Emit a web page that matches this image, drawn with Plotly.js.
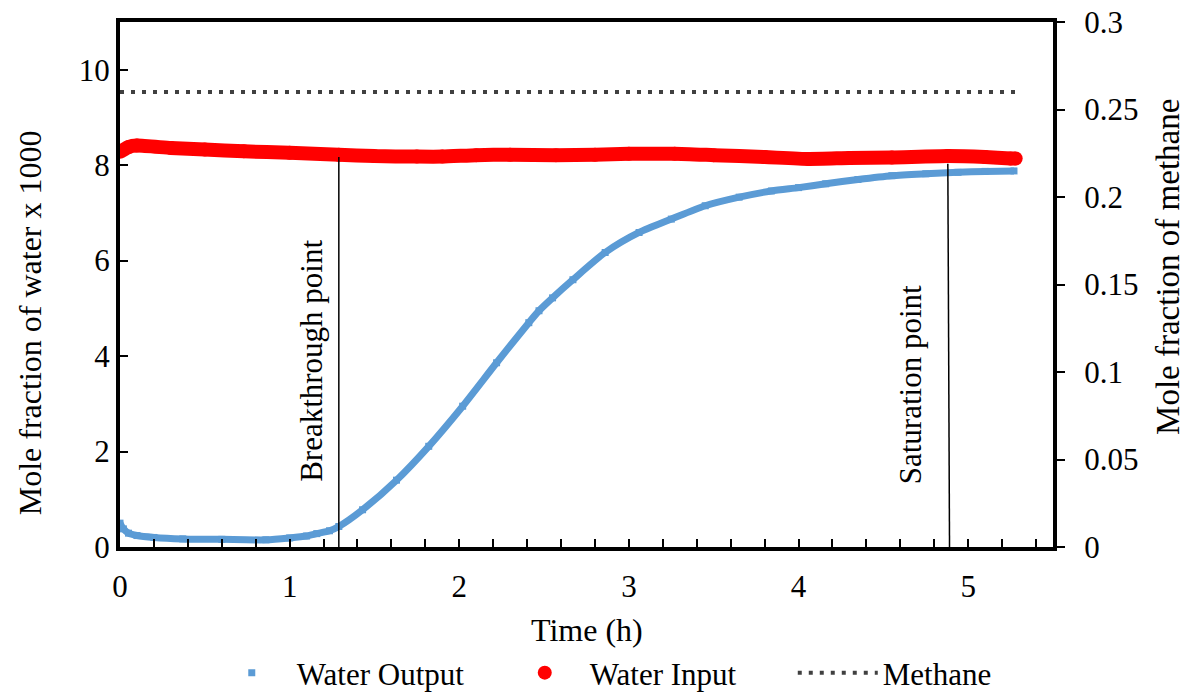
<!DOCTYPE html>
<html>
<head>
<meta charset="utf-8">
<script src="https://cdn.plot.ly/plotly-3.0.1.min.js"></script>
<style>html,body{margin:0;padding:0;background:#fff;}#chart{width:1186px;height:693px;}</style>
</head>
<body>
<div id="chart"></div>
<script>
// Water output (mole fraction x 1000) vs time (h)
const outputTime = [0, 0.02, 0.05, 0.1, 0.2, 0.37, 0.6, 0.86, 1.0, 1.1, 1.16, 1.235, 1.29, 1.43, 1.63, 1.82, 2.02, 2.22, 2.41, 2.47, 2.55, 2.67, 2.86, 3.06, 3.25, 3.45, 3.65, 3.84, 4.0, 4.16, 4.35, 4.55, 4.75, 4.94, 5.1, 5.27];
const outputWater = [0.5, 0.38, 0.29, 0.24, 0.2, 0.17, 0.16, 0.15, 0.19, 0.23, 0.28, 0.34, 0.43, 0.78, 1.40, 2.11, 2.95, 3.86, 4.70, 4.95, 5.22, 5.60, 6.17, 6.59, 6.87, 7.15, 7.33, 7.46, 7.53, 7.61, 7.70, 7.78, 7.82, 7.85, 7.87, 7.88];

// Water input (mole fraction x 1000) vs time (h)
const inputTime = [0, 0.05, 0.1, 0.3, 0.5, 0.73, 1.0, 1.29, 1.5, 1.75, 1.9, 2.1, 2.3, 2.57, 2.8, 3.0, 3.27, 3.5, 3.8, 4.06, 4.3, 4.55, 4.88, 5.1, 5.25, 5.28];
const inputWater = [8.28, 8.38, 8.41, 8.36, 8.33, 8.29, 8.26, 8.22, 8.19, 8.18, 8.18, 8.21, 8.22, 8.21, 8.22, 8.24, 8.24, 8.21, 8.17, 8.13, 8.15, 8.16, 8.19, 8.17, 8.14, 8.14];

// Methane mole fraction (right axis)
const methaneTime = [0, 5.3];
const methaneFraction = [0.26, 0.26];

// Marker lines
const breakthroughTime = [1.29, 1.29];
const breakthroughLevel = [0, 8.17];
const saturationTime = [4.89, 4.88];
const saturationLevel = [0, 8.03];

// Tick labels
const xTickVals = [0, 1, 2, 3, 4, 5];
const yTickVals = [0, 2, 4, 6, 8, 10];
const y2TickVals = [0, 0.05, 0.1, 0.15, 0.2, 0.25, 0.3];
const y2TickText = ['0', '0.05', '0.1', '0.15', '0.2', '0.25', '0.3'];

const FONT = 'Liberation Serif, Times New Roman, serif';
const FS = 31;
const BLUE = '#5B9BD5';
const RED = '#FF0000';

const traces = [
  {x: outputTime, y: outputWater, mode: 'lines', line: {color: BLUE, width: 7, shape: 'spline', smoothing: 0.7}, showlegend: false, hoverinfo: 'skip'},
  {x: outputTime, y: outputWater, mode: 'markers', name: 'Water Output', marker: {symbol: 'square', size: 7, color: BLUE}},
  {x: inputTime, y: inputWater, mode: 'lines', line: {color: RED, width: 14, shape: 'spline', smoothing: 0.5}, showlegend: false, hoverinfo: 'skip'},
  {x: inputTime, y: inputWater, mode: 'markers', name: 'Water Input', marker: {symbol: 'circle', size: 14, color: RED}},
  {x: methaneTime, y: methaneFraction, yaxis: 'y2', mode: 'lines', name: 'Methane', line: {color: '#404040', width: 4, dash: '4px,7px'}},
  {x: breakthroughTime, y: breakthroughLevel, mode: 'lines', line: {color: '#000', width: 1.5}, showlegend: false},
  {x: saturationTime, y: saturationLevel, mode: 'lines', line: {color: '#000', width: 1.5}, showlegend: false}
];

const layout = {
  width: 1186, height: 693,
  margin: {l: 120, r: 133, t: 22, b: 146, autoexpand: false},
  paper_bgcolor: '#fff', plot_bgcolor: '#fff',
  font: {family: FONT, size: FS, color: '#000'},
  showlegend: true,
  legend: {orientation: 'h', x: 0.093, xanchor: 'left', y: -0.24, yanchor: 'middle',
           font: {family: FONT, size: FS, color: '#000'}, itemwidth: 80,
           entrywidth: 198, entrywidthmode: 'pixels', traceorder: 'normal'},
  xaxis: {range: [0, 5.5], tickvals: xTickVals, ticks: 'inside', ticklen: 8, tickwidth: 2, tickcolor: '#000',
          minor: {dtick: 0.2, tick0: 0, ticks: 'inside', ticklen: 8, tickwidth: 2, tickcolor: '#000'},
          showline: true, linewidth: 4, linecolor: '#000', mirror: true, showgrid: false, zeroline: false,
          ticklabelstandoff: 9, tickfont: {family: FONT, size: FS}},
  yaxis: {range: [0, 11], tickvals: yTickVals, ticks: 'inside', ticklen: 8, tickwidth: 2, tickcolor: '#000',
          showline: true, linewidth: 4, linecolor: '#000', mirror: true, showgrid: false, zeroline: false,
          tickfont: {family: FONT, size: FS}},
  yaxis2: {range: [0, 0.3], overlaying: 'y', side: 'right', tickvals: y2TickVals, ticktext: y2TickText,
           ticks: 'outside', ticklen: 8, tickwidth: 2, tickcolor: '#000',
           showline: true, linewidth: 4, linecolor: '#000', showgrid: false, zeroline: false,
           ticklabelstandoff: 13, tickfont: {family: FONT, size: FS}},
  annotations: [
    {text: 'Time (h)', xref: 'paper', yref: 'paper', x: 0.5, y: -0.158, xanchor: 'center', yanchor: 'middle', showarrow: false, font: {family: FONT, size: 32}},
    {text: 'Mole fraction of water x 1000', xref: 'paper', yref: 'paper', x: -0.0965, y: 0.428, xanchor: 'center', yanchor: 'middle', textangle: -90, showarrow: false, font: {family: FONT, size: 32}},
    {text: 'Mole fraction of methane', xref: 'paper', yref: 'paper', x: 1.123, y: 0.533, xanchor: 'center', yanchor: 'middle', textangle: -90, showarrow: false, font: {family: FONT, size: 33}},
    {text: 'Breakthrough point', xref: 'x', yref: 'y', x: 1.129, y: 3.89, xanchor: 'center', yanchor: 'middle', textangle: -90, showarrow: false, font: {family: FONT, size: FS}},
    {text: 'Saturation point', xref: 'x', yref: 'y', x: 4.66, y: 3.40, xanchor: 'center', yanchor: 'middle', textangle: -90, showarrow: false, font: {family: FONT, size: FS}}
  ]
};

Plotly.newPlot('chart', traces, layout, {staticPlot: true, displayModeBar: false});
</script>
</body>
</html>
